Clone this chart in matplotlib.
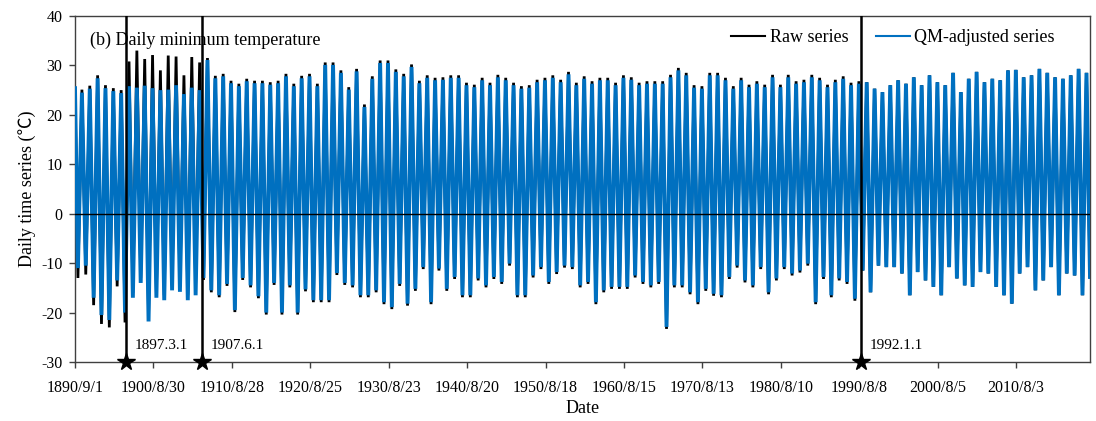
import matplotlib
matplotlib.use("Agg")
import matplotlib.pyplot as plt
from matplotlib.lines import Line2D
import pandas as pd

# ---------------- data ----------------
years = list(range(1891, 2020))

series_start = "1890-09-01"
series_end = "2019-12-31"
start_value = 25.4
end_value = -12.8

# QM-adjusted series: annual summer peak and winter trough of daily Tmin (degC)
adj_peak = [
    24.5, 25.3, 27.4, 25.4, 24.8, 24.4, 25.8, 25.5, 25.9, 25.4,   # 1891-1900
    25.0, 25.1, 26.0, 24.2, 25.5, 25.0, 31.1, 27.4, 27.8, 26.4,   # 1901-1910
    25.8, 26.8, 26.4, 26.4, 26.1, 26.4, 27.8, 25.8, 27.4, 27.8,   # 1911-1920
    25.8, 30.1, 30.1, 28.5, 25.1, 28.8, 21.6, 27.3, 30.5, 30.5,   # 1921-1930
    28.7, 27.8, 29.7, 26.4, 27.5, 27.0, 27.1, 27.5, 27.5, 26.0,   # 1931-1940
    25.6, 27.0, 26.0, 27.6, 27.0, 26.0, 25.3, 25.5, 26.6, 27.0,   # 1941-1950
    27.5, 26.6, 28.2, 26.0, 27.3, 26.3, 27.0, 27.0, 26.0, 27.5,   # 1951-1960
    27.1, 26.0, 26.3, 26.3, 26.3, 27.6, 29.0, 28.0, 25.5, 25.3,   # 1961-1970
    28.0, 28.0, 27.0, 25.3, 27.0, 25.6, 26.3, 25.6, 27.6, 25.6,   # 1971-1980
    27.6, 26.3, 26.6, 27.6, 27.0, 25.6, 26.6, 27.3, 26.0, 26.3,   # 1981-1990
    26.6, 25.3, 24.6, 26.0, 27.0, 26.3, 27.6, 26.0, 28.0, 26.6,   # 1991-2000
    26.0, 28.5, 24.6, 27.3, 28.7, 26.6, 27.3, 27.0, 29.0, 29.1,   # 2001-2010
    27.6, 28.0, 29.3, 28.5, 27.6, 27.3, 28.0, 29.3, 28.5,         # 2011-2019
]
adj_trough = [
    -11.0, -10.5, -17.0, -20.5, -21.5, -13.5, -20.0, -17.0, -14.0, -21.8,
    -17.0, -17.5, -15.5, -15.8, -17.5, -16.5, -13.0, -15.5, -16.5, -14.2,
    -19.5, -13.0, -14.5, -16.7, -20.0, -14.0, -20.0, -14.5, -20.0, -15.3,
    -17.5, -17.5, -17.5, -12.0, -14.0, -14.5, -16.5, -16.5, -15.5, -17.9,
    -18.9, -14.2, -18.2, -15.2, -10.8, -17.9, -11.1, -15.2, -12.8, -16.5,
    -16.5, -13.1, -14.5, -12.8, -13.8, -10.1, -16.5, -16.5, -12.5, -10.8,
    -13.8, -11.8, -10.5, -10.8, -14.5, -13.8, -17.9, -15.5, -14.8, -14.8,
    -14.8, -12.5, -13.8, -14.5, -13.8, -22.9, -14.5, -14.5, -15.9, -17.9,
    -15.2, -16.2, -16.5, -12.8, -10.5, -13.5, -14.5, -10.8, -15.9, -13.1,
    -10.8, -12.1, -11.5, -10.1, -17.9, -12.8, -16.5, -13.1, -13.8, -17.2,
    -11.5, -15.9, -10.5, -10.8, -10.8, -12.1, -16.5, -11.8, -13.5, -14.8,
    -16.5, -10.8, -13.1, -14.5, -14.8, -11.8, -12.1, -14.8, -16.5, -18.2,
    -12.1, -10.8, -15.5, -13.5, -10.8, -16.5, -12.1, -12.5, -16.5,
]

# Raw series: differs before the last breakpoint, identical to adjusted afterwards
raw_peak_1891_1990 = [
    25.1, 25.9, 28.0, 26.0, 25.4, 25.0, 30.8, 33.0, 31.3, 32.1,
    29.0, 32.0, 31.8, 28.0, 31.7, 30.6, 31.5, 27.9, 28.3, 26.9,
    26.3, 27.3, 26.9, 26.9, 26.6, 26.9, 28.3, 26.3, 27.9, 28.3,
    26.3, 30.6, 30.6, 29.0, 25.6, 29.3, 22.1, 27.8, 31.0, 31.0,
    29.2, 28.3, 30.2, 26.9, 28.0, 27.5, 27.6, 28.0, 28.0, 26.5,
    26.1, 27.5, 26.5, 28.1, 27.5, 26.5, 25.8, 26.0, 27.1, 27.5,
    28.0, 27.1, 28.7, 26.5, 27.8, 26.8, 27.5, 27.5, 26.5, 28.0,
    27.6, 26.5, 26.8, 26.8, 26.8, 28.1, 29.5, 28.5, 26.0, 25.8,
    28.5, 28.5, 27.5, 25.8, 27.5, 26.1, 26.8, 26.1, 28.1, 26.1,
    28.1, 26.8, 27.1, 28.1, 27.5, 26.1, 27.1, 27.8, 26.5, 26.8,
]
raw_trough_1891_1990 = [
    -13.0, -12.3, -18.5, -22.3, -23.0, -14.7, -22.0, -16.0, -13.0, -20.8,
    -16.0, -16.5, -14.5, -14.8, -16.5, -14.0, -13.4, -15.9, -16.9, -14.6,
    -19.9, -13.4, -14.9, -17.1, -20.4, -14.4, -20.4, -14.9, -20.4, -15.7,
    -17.9, -17.9, -17.9, -12.4, -14.4, -14.9, -16.9, -16.9, -15.9, -18.3,
    -19.3, -14.6, -18.6, -15.6, -11.2, -18.3, -11.5, -15.6, -13.2, -16.9,
    -16.9, -13.5, -14.9, -13.2, -14.2, -10.5, -16.9, -16.9, -12.9, -11.2,
    -14.2, -12.2, -10.9, -11.2, -14.9, -14.2, -18.3, -15.9, -15.2, -15.2,
    -15.2, -12.9, -14.2, -14.9, -14.2, -23.3, -14.9, -14.9, -16.3, -18.3,
    -15.6, -16.6, -16.9, -13.2, -10.9, -13.9, -14.9, -11.2, -16.3, -13.5,
    -11.2, -12.5, -11.9, -10.5, -18.3, -13.2, -16.9, -13.5, -14.2, -17.6,
]
raw_peak = raw_peak_1891_1990 + adj_peak[len(raw_peak_1891_1990):]
raw_trough = raw_trough_1891_1990 + adj_trough[len(raw_trough_1891_1990):]

# x tick labels (every 3650 days)
tick_labels = ["1890/9/1", "1900/8/30", "1910/8/28", "1920/8/25", "1930/8/23",
               "1940/8/20", "1950/8/18", "1960/8/15", "1970/8/13", "1980/8/10",
               "1990/8/8", "2000/8/5", "2010/8/3"]
y_ticks = [-30, -20, -10, 0, 10, 20, 30, 40]

# breakpoints: labels, and where the reference draws their vertical lines
break_labels = ["1897.3.1", "1907.6.1", "1992.1.1"]
break_line_dates = ["1897-03-01", "1906-11-06", "1990-10-30"]

# ---------------- helpers ----------------
def build_series(peaks, troughs):
    dates = [pd.Timestamp(series_start)]
    vals = [start_value]
    for y, t, p in zip(years, troughs, peaks):
        dates += [pd.Timestamp(y, 1, 15), pd.Timestamp(y, 7, 20)]
        vals += [t, p]
    dates.append(pd.Timestamp(series_end))
    vals.append(end_value)
    return dates, vals

raw_d, raw_v = build_series(raw_peak, raw_trough)
adj_d, adj_v = build_series(adj_peak, adj_trough)

# ---------------- figure ----------------
SERIF = ["Liberation Serif", "DejaVu Serif"]
plt.rcParams["font.family"] = SERIF
BLUE = "#0070C0"

fig = plt.figure(figsize=(10.96, 4.21), dpi=100)
ax = fig.add_axes([75 / 1096, 1 - 362 / 421, 1015 / 1096, 346 / 421])

ax.plot(raw_d, raw_v, color="black", lw=2.0, solid_joinstyle="miter", zorder=2)
ax.plot(adj_d, adj_v, color=BLUE, lw=2.8, solid_joinstyle="miter", zorder=3)

ax.axhline(0, color="black", lw=1.0, zorder=5)

for lab, d in zip(break_labels, break_line_dates):
    dt = pd.Timestamp(d)
    ax.axvline(dt, color="black", lw=1.8, zorder=6)
    ax.plot([dt], [-30], marker="*", color="black", markersize=13,
            clip_on=False, zorder=7)
    ax.annotate(lab, xy=(dt, -26.7), xytext=(6.5, 0), textcoords="offset points",
                fontsize=11, va="center", ha="left", zorder=8)

ax.set_xlim(pd.Timestamp(series_start), pd.Timestamp(series_end))
ax.set_ylim(-30, 40)
tick_pos = pd.to_datetime(tick_labels, format="%Y/%m/%d")
ax.set_xticks(tick_pos)
ax.set_xticklabels(tick_labels, fontsize=11.5)
ax.set_yticks(y_ticks)
ax.set_yticklabels([str(v) for v in y_ticks], fontsize=11.5)
ax.tick_params(direction="out", length=4, width=1, color="#404040")
ax.tick_params(axis="x", pad=9)
ax.tick_params(axis="y", pad=5)

for s in ax.spines.values():
    s.set_color("#404040")
    s.set_linewidth(1.0)

ax.set_xlabel("Date", fontsize=13, labelpad=3)
ax.set_ylabel("Daily time series (℃)", fontsize=13, labelpad=4,
              family=["Liberation Serif", "Noto Sans CJK SC", "DejaVu Sans"])

ax.text(0.0148, 0.9306, "(b) Daily minimum temperature", transform=ax.transAxes,
        fontsize=13, va="center", ha="left", zorder=9)

handles = [Line2D([], [], color="black", lw=1.5),
           Line2D([], [], color=BLUE, lw=1.5)]
ax.legend(handles, ["Raw series", "QM-adjusted series"], ncol=2, frameon=False,
          loc="center left", bbox_to_anchor=((731 - 75) / 1015, (362 - 38) / 346),
          borderaxespad=0, borderpad=0, handlelength=1.9, handletextpad=0.25,
          columnspacing=1.5, fontsize=13)

fig.savefig("out.png", dpi=100)
